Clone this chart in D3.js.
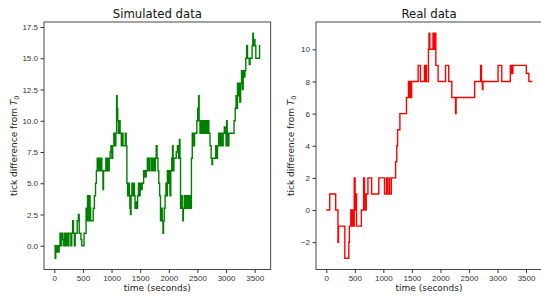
<!DOCTYPE html>
<html>
<head>
<meta charset="utf-8">
<script src="https://cdn.jsdelivr.net/npm/d3@7"></script>
<style>
  body { margin: 0; background: #fff; }
  svg { font-family: "DejaVu Sans", sans-serif; }
  .axis path, .axis line { stroke: #333; }
  .axis text { fill: #333; font-size: 8px; }
</style>
</head>
<body>
<svg width="541" height="301"></svg>
<script>
// simulated data: time (s) and tick difference, step after
var simTime = [0, 15, 25, 40, 55, 70, 85, 100, 115, 130, 150, 165, 180, 200, 215, 240, 255, 275, 290, 305,
  320, 335, 350, 365, 380, 400, 420, 435, 450, 465, 480, 500, 520, 540, 555, 570, 580, 595, 605, 615,
  625, 635, 660, 680, 700, 720, 735, 750, 765, 780, 800, 815, 830, 850, 860, 880, 900, 915, 930, 945,
  960, 975, 990, 1005, 1020, 1040, 1060, 1075, 1088, 1098, 1108, 1120, 1135, 1150, 1170, 1185, 1200, 1225, 1240, 1255,
  1268, 1280, 1295, 1310, 1320, 1330, 1340, 1355, 1370, 1385, 1400, 1410, 1425, 1440, 1455, 1470, 1485, 1500, 1520, 1535,
  1560, 1585, 1605, 1625, 1650, 1670, 1700, 1720, 1745, 1765, 1780, 1795, 1810, 1825, 1840, 1855, 1870,
  1885, 1898, 1908, 1920, 1935, 1950, 1965, 1975, 1990, 2005, 2020, 2035, 2050, 2065, 2075, 2090, 2110, 2130, 2150, 2170,
  2185, 2195, 2205, 2220, 2235, 2245, 2255, 2270, 2285, 2300, 2320, 2335, 2350, 2365, 2380, 2395, 2410, 2430, 2450, 2470,
  2490, 2505, 2520, 2530, 2545, 2565, 2585, 2605, 2625, 2645, 2665, 2685, 2700, 2720, 2740, 2755, 2765, 2800,
  2820, 2835, 2850, 2870, 2890, 2910, 2935, 2950, 2970, 2985, 3000, 3010, 3020, 3035, 3050, 3080, 3110, 3140, 3160, 3175,
  3190, 3200, 3215, 3225, 3240, 3255, 3270, 3285, 3300, 3315, 3330, 3345, 3360, 3375, 3390, 3405, 3420, 3440, 3455, 3468,
  3478, 3490, 3505, 3520, 3545, 3570, 3585, 3600];
var simValue = [0, -1, 0, -0.5, 0, -0.5, 0, 1, 0, 1, 0.5, 0, 1, 0, 1, 0, 1, 1, 0, 1,
  2, 1, 0, 1, 1, 2, 2.5, 1, 1, 0.5, 0, 0, 1, 1, 3, 2, 4, 3, 2, 4,
  3, 2, 2, 3, 4, 5, 6, 7, 6, 7, 6, 7, 6, 4.5, 6, 6, 7, 6, 7, 6,
  7, 7.5, 8, 7, 8, 9, 8, 9, 12, 11, 10, 9, 10, 9, 8, 9, 8, 8, 9, 8,
  5, 4, 5, 4, 3, 2.5, 4, 5, 4, 5, 4, 3, 3.5, 3, 4, 5, 4, 5, 4.5, 5,
  6, 5.5, 6, 7, 6, 7, 6, 7, 6, 7, 8, 7, 6, 5, 4, 2, 3,
  2, 1, 2, 3, 4, 5, 4, 6, 5, 6, 4, 6, 7, 8, 6, 7, 7, 7.5, 8, 7,
  8.5, 7, 3, 4, 3, 2, 3, 4, 3, 4, 3, 4, 3, 4, 3, 7, 9, 8, 9, 9,
  10, 11, 12, 10, 9, 10, 9, 10, 9, 10, 9, 10, 9, 8, 7, 6.5, 7, 7,
  8, 7, 8, 9, 8, 9, 8, 9, 9.5, 9, 8, 10, 9, 8, 9, 9, 9, 10, 11, 12,
  11, 13, 12, 13, 11.5, 13, 14, 12.5, 14, 13.5, 14, 15, 16, 15, 15, 14.5, 15, 15, 16, 17,
  16, 16.5, 16, 15, 15, 15, 16, 16];

// real data: time (s) and tick difference, step after
var realTime = [0, 60, 165, 205, 215, 325, 395, 405, 430, 440, 455, 465, 490, 505, 515, 530, 615, 655, 670, 680,
  700, 730, 795, 920, 1020, 1055, 1070, 1100, 1110, 1140, 1215, 1235, 1250, 1290, 1405, 1440, 1450, 1470, 1475, 1495,
  1610, 1650, 1720, 1730, 1745, 1755, 1790, 1800, 1815, 1870, 1885, 1895, 1920, 1960, 2090, 2145, 2200, 2265, 2275, 2600,
  2705, 2720, 2735, 2745, 3010, 3075, 3225, 3250, 3270, 3505, 3550, 3610];
var realValue = [0, 1, 0, -2, -1, -3, -2, -1, 0, -1, 0, -1, 2, 0, 1, -1, 0, 2, 1, 0,
  1, 2, 1, 2, 1, 2, 1, 2, 1, 2, 3, 4, 5, 6, 7, 8, 7, 8, 7, 8,
  9, 8, 9, 8, 9, 8, 10, 11, 10, 11, 10, 11, 9, 8, 9, 8, 7, 6, 7, 8,
  9, 8, 7.5, 8, 9, 8, 9, 8.5, 9, 8.5, 8, 8];

var xTicks = [0, 500, 1000, 1500, 2000, 2500, 3000, 3500];
var simYTicks = [0, 2.5, 5, 7.5, 10, 12.5, 15, 17.5];
var realYTicks = [-2, 0, 2, 4, 6, 8, 10];

var svg = d3.select("svg");

function panel(opt) {
  var x = d3.scaleLinear().domain([-180, 3780]).range([opt.left, opt.right]);
  var y = d3.scaleLinear().domain(opt.yDomain).range([opt.bottom, opt.top]);
  var g = svg.append("g");

  g.append("clipPath").attr("id", opt.id)
    .append("rect")
    .attr("x", opt.left).attr("y", opt.top)
    .attr("width", opt.right - opt.left).attr("height", opt.bottom - opt.top);

  var pts = opt.t.map(function (t, i) { return [t, opt.v[i]]; });
  var line = d3.line()
    .x(function (d) { return x(d[0]); })
    .y(function (d) { return y(d[1]); })
    .curve(d3.curveStepAfter);

  g.append("path")
    .datum(pts)
    .attr("clip-path", "url(#" + opt.id + ")")
    .attr("fill", "none")
    .attr("stroke", opt.color)
    .attr("stroke-width", 1.4)
    .attr("d", line);

  // axes
  g.append("g")
    .attr("class", "axis")
    .attr("transform", "translate(0," + opt.bottom + ")")
    .call(d3.axisBottom(x).tickValues(xTicks).tickFormat(d3.format("d")).tickSize(3.5).tickPadding(2.5).tickSizeOuter(0))
    .select(".domain").remove();
  g.append("g")
    .attr("class", "axis")
    .attr("transform", "translate(" + opt.left + ",0)")
    .call(d3.axisLeft(y).tickValues(opt.yTicks).tickFormat(opt.fmt).tickSize(3.5).tickPadding(2.5).tickSizeOuter(0))
    .select(".domain").remove();

  // frame
  g.append("rect")
    .attr("x", opt.left).attr("y", opt.top)
    .attr("width", opt.right - opt.left).attr("height", opt.bottom - opt.top)
    .attr("fill", "none").attr("stroke", "#333").attr("stroke-width", 0.9);

  g.append("text")
    .attr("x", (opt.left + opt.right) / 2).attr("y", 18)
    .attr("text-anchor", "middle")
    .style("font-size", "11.7px").attr("fill", "#111")
    .text(opt.title);

  g.append("text")
    .attr("x", (opt.left + opt.right) / 2).attr("y", 291)
    .attr("text-anchor", "middle")
    .style("font-size", "9px").attr("fill", "#222")
    .text("time (seconds)");

  var yl = g.append("text")
    .attr("transform", "translate(" + opt.ylabX + "," + ((opt.top + opt.bottom) / 2) + ") rotate(-90)")
    .attr("text-anchor", "middle")
    .style("font-size", "9px").attr("fill", "#222");
  yl.append("tspan").text("tick difference from ");
  yl.append("tspan").attr("font-style", "italic").text("T");
  yl.append("tspan").attr("dy", 2).style("font-size", "6.5px").text("0");
}

panel({
  id: "clipSim", left: 44, right: 270.7, top: 22, bottom: 269.5,
  yDomain: [-1.9, 17.9], yTicks: simYTicks, fmt: d3.format(".1f"),
  t: simTime, v: simValue, color: "#008000",
  title: "Simulated data", ylabX: 17
});

panel({
  id: "clipReal", left: 316, right: 542, top: 22, bottom: 269.5,
  yDomain: [-3.7, 11.7], yTicks: realYTicks, fmt: d3.format("d"),
  t: realTime, v: realValue, color: "#ff0000",
  title: "Real data", ylabX: 293.5
});
</script>
</body>
</html>
